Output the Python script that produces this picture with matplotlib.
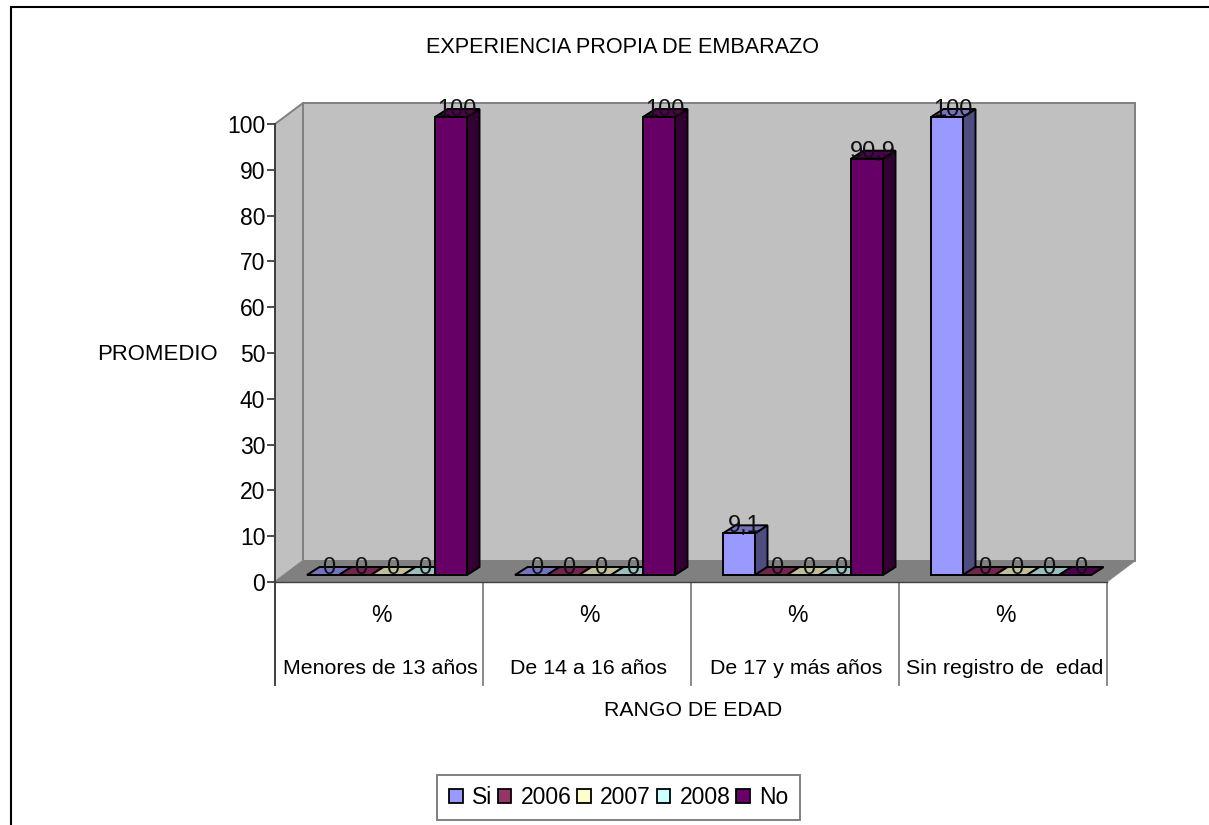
import matplotlib
matplotlib.use("Agg")
import matplotlib.pyplot as plt
from matplotlib.patches import Polygon, Patch
from matplotlib.lines import Line2D

plt.rcParams['font.family'] = ['Liberation Sans', 'DejaVu Sans']

# datos
categorias = ["Menores de 13 años", "De 14 a 16 años", "De 17 y más años", "Sin registro de  edad"]
series = ["Si", "2006", "2007", "2008", "No"]
si = [0, 0, 9.1, 100]
v2006 = [0, 0, 0, 0]
v2007 = [0, 0, 0, 0]
v2008 = [0, 0, 0, 0]
no = [100, 100, 90.9, 0]
etiquetas_si = ["0", "0", "9,1", "100"]
etiquetas_no = ["100", "100", "90,9", "0"]
valores = [si, v2006, v2007, v2008, no]

colores = ['#9999FF', '#993366', '#FFFFCC', '#CCFFFF', '#660066']
laterales = ['#4D4D80', '#4D1A33', '#808066', '#668080', '#330033']
techos = ['#7373BF', '#73264D', '#BFBF99', '#99BFBF', '#4D004D']

W, H = 1209, 825
# plano frontal en pixeles
x0_px, x1_px, y0_px, y100_px = 275, 1107, 582, 124
px_x = 4 / (x1_px - x0_px)
px_y = 100 / (y0_px - y100_px)

fig = plt.figure(figsize=(W / 100, H / 100), dpi=100)
ax = fig.add_axes([x0_px / W, 1 - y0_px / H, (x1_px - x0_px) / W, (y0_px - y100_px) / H])
ax.set_xlim(0, 4)
ax.set_ylim(0, 100)
ax.patch.set_alpha(0)

# marco exterior: solo izquierda y arriba
marco = Line2D([11 / W, 11 / W, 1], [0, 1 - 7 / H, 1 - 7 / H],
               transform=fig.transFigure, color='black', lw=1.5, solid_joinstyle='miter')
fig.add_artist(marco)

# paredes y piso
dx, dy = 28 * px_x, 21 * px_y
gris = '#808080'
ax.add_patch(Polygon([(0, 0), (dx, dy), (dx, 100 + dy), (0, 100)], fc='#C0C0C0', ec=gris, lw=1.4, zorder=1, clip_on=False))
ax.add_patch(Polygon([(dx, dy), (4 + dx, dy), (4 + dx, 100 + dy), (dx, 100 + dy)], fc='#C0C0C0', ec=gris, lw=1.4, zorder=1, clip_on=False))
ax.add_patch(Polygon([(0, 0), (4, 0), (4 + dx, dy), (dx, dy)], fc=gris, ec=gris, lw=0.5, zorder=2, clip_on=False))

# barras 3d
ancho = 32 * px_x
prof_x, prof_y = 12.5 * px_x, 8 * px_y
base = 7 * px_y
z = 3
for i in range(len(categorias)):
    for j, vals in enumerate(valores):
        v = vals[i]
        x = i + ancho + j * ancho
        y0 = base
        y1 = base + v
        front = [(x, y0), (x + ancho, y0), (x + ancho, y1), (x, y1)]
        side = [(x + ancho, y0), (x + ancho + prof_x, y0 + prof_y), (x + ancho + prof_x, y1 + prof_y), (x + ancho, y1)]
        top = [(x, y1), (x + ancho, y1), (x + ancho + prof_x, y1 + prof_y), (x + prof_x, y1 + prof_y)]
        for pts, c in ((side, laterales[j]), (top, techos[j]), (front, colores[j])):
            ax.add_patch(Polygon(pts, fc=c, ec='black', lw=1.4, zorder=z, clip_on=False, joinstyle='miter'))
        z += 0.01

# etiquetas de datos
for i in range(len(categorias)):
    for j, vals in enumerate(valores):
        if j == 0:
            txt = etiquetas_si[i]
        elif j == 4:
            txt = etiquetas_no[i]
        else:
            txt = "0"
        xc = i + ancho + j * ancho + ancho / 2 + 5.5 * px_x
        ax.text(xc, base + vals[i] + 7 * px_y, txt, ha='center', va='center', fontsize=17,
                color='#101010', zorder=6, clip_on=False)

# ejes
for s in ax.spines.values():
    s.set_visible(False)
ax.set_yticks(range(0, 101, 10))
ax.set_xticks([])
ax.tick_params(axis='y', length=5.5, width=1.3, color='#404040', labelsize=16.5, pad=1.5)
ax.plot([0, 0], [-103 * px_y, 100], color='#404040', lw=1.4, clip_on=False, zorder=2.5)
ax.plot([0, 4], [0, 0], color='#404040', lw=1, clip_on=False, zorder=2.5)
for i in range(1, 5):
    ax.plot([i, i], [-103 * px_y, 0], color=gris, lw=1.3, clip_on=False, zorder=2)

# rotulos de categoria
for i, c in enumerate(categorias):
    ax.text(i + 0.51, (y0_px - 615) * px_y, "%", ha='center', va='center', fontsize=16.5, clip_on=False)
    ax.text(i + 0.508, (y0_px - 668.5) * px_y, c, ha='center', va='center', fontsize=15.4, clip_on=False)

# titulos
fig.text(622 / W, 1 - 47.5 / H, "EXPERIENCIA PROPIA DE EMBARAZO", ha='center', va='center', fontsize=15.6)
fig.text(157 / W, 1 - 354.5 / H, "PROMEDIO", ha='center', va='center', fontsize=15.9)
fig.text(693 / W, 1 - 710.5 / H, "RANGO DE EDAD", ha='center', va='center', fontsize=15.3)

# leyenda
handles = [Patch(fc=c, ec='black', lw=1.3, label=s) for c, s in zip(colores, series)]
ley = fig.legend(handles=handles, loc='center', bbox_to_anchor=(618.5 / W, 1 - 797.5 / H), ncol=5, fontsize=16.5,
                 fancybox=False, framealpha=1, edgecolor=gris, handlelength=0.6, handleheight=0.6,
                 handletextpad=0.4, columnspacing=0.25, borderpad=0.5, borderaxespad=0)
ley.get_frame().set_linewidth(1.4)

fig.savefig("out.png", dpi=100)
